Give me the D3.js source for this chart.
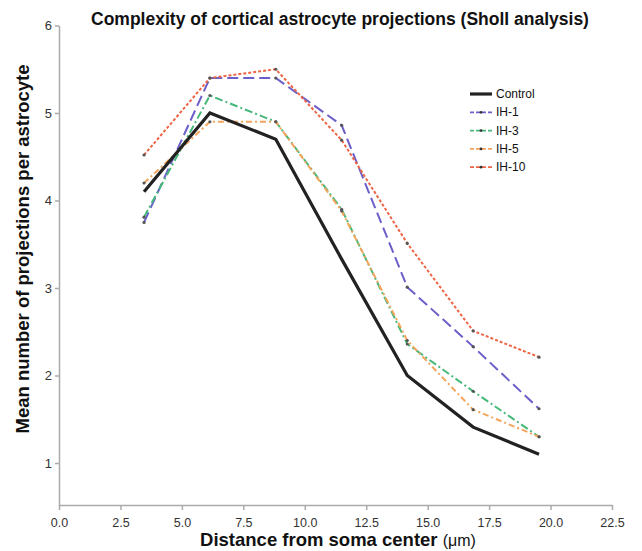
<!DOCTYPE html>
<html>
<head>
<meta charset="utf-8">
<script src="https://cdn.jsdelivr.net/npm/d3@7"></script>
<style>
  body { margin: 0; background: #fff; }
  text { font-family: "Liberation Sans", Arial, sans-serif; }
</style>
</head>
<body>
<div class="chart"></div>
<script>
// distances along the Sholl radius (um)
var distances = [3.46, 6.14, 8.82, 11.5, 14.17, 16.85, 19.53];

var control = [4.1, 5.0, 4.7, 3.33, 2.0, 1.41, 1.1];
var ih1 = [3.75, 5.4, 5.4, 4.86, 3.01, 2.33, 1.62];
var ih3 = [3.81, 5.2, 4.9, 3.9, 2.36, 1.82, 1.3];
var ih5 = [4.2, 4.9, 4.9, 3.88, 2.4, 1.61, 1.3];
var ih10 = [4.52, 5.4, 5.5, 4.69, 3.51, 2.51, 2.21];

var seriesNames = ["Control", "IH-1", "IH-3", "IH-5", "IH-10"];
var xTicks = [0, 2.5, 5, 7.5, 10, 12.5, 15, 17.5, 20, 22.5];
var yTicks = [1, 2, 3, 4, 5, 6];

var series = [
    { name: seriesNames[0], values: control, color: "#222222", dash: null, width: 3.2, dots: false },
    { name: seriesNames[1], values: ih1, color: "#6b5fc9", dash: "11,5", width: 2, dots: true },
    { name: seriesNames[2], values: ih3, color: "#45b87a", dash: "8,3,2,3", width: 2, dots: true },
    { name: seriesNames[3], values: ih5, color: "#f4a55c", dash: "6,3,2,3", width: 2, dots: true },
    { name: seriesNames[4], values: ih10, color: "#ee6545", dash: "3,2", width: 2, dots: true }
];

var svg = d3.select(".chart")
    .append("svg")
    .attr("width", 642)
    .attr("height", 551);

var x = d3.scaleLinear()
    .domain([0, 22.5])
    .range([59, 612]);

var y = d3.scaleLinear()
    .domain([0.52, 6])
    .range([505, 25.5]);

var axisColor = "#aaaaaa";
var tickText = "#333333";

var xAxis = svg.append("g")
    .attr("transform", "translate(0," + y(0.52) + ")")
    .call(d3.axisBottom(x).tickValues(xTicks).tickSize(5).tickSizeOuter(0).tickFormat(d3.format(".1f")));
xAxis.select(".domain").attr("stroke", axisColor).attr("stroke-width", 1.5);
xAxis.selectAll("line").attr("stroke", axisColor).attr("stroke-width", 1.5);
xAxis.selectAll("text")
    .attr("fill", tickText)
    .attr("dy", "1.15em")
    .style("font-size", "12.5px");

var yAxis = svg.append("g")
    .attr("transform", "translate(" + x(0) + ",0)")
    .call(d3.axisLeft(y).tickValues(yTicks).tickSize(4).tickSizeOuter(0).tickFormat(d3.format("d")));
yAxis.select(".domain").attr("stroke", axisColor).attr("stroke-width", 1.5);
yAxis.selectAll("line").attr("stroke", axisColor).attr("stroke-width", 1.5);
yAxis.selectAll("text")
    .attr("fill", tickText)
    .attr("x", -7)
    .style("font-size", "13px");

var line = d3.line()
    .x(function (d, i) { return x(distances[i]); })
    .y(function (d) { return y(d); });

// draw control last so it sits on top like the original
var drawOrder = [1, 2, 3, 4, 0];
drawOrder.forEach(function (k) {
    var s = series[k];
    svg.append("path")
        .datum(s.values)
        .attr("fill", "none")
        .attr("stroke", s.color)
        .attr("stroke-width", s.width)
        .attr("stroke-dasharray", s.dash)
        .attr("stroke-linejoin", "miter")
        .attr("d", line);
    if (s.dots) {
        svg.selectAll(".dot" + k)
            .data(s.values)
            .enter()
            .append("circle")
            .attr("cx", function (d, i) { return x(distances[i]); })
            .attr("cy", function (d) { return y(d); })
            .attr("r", 1.6)
            .attr("fill", "#555555");
    }
});

// legend
var legend = svg.append("g").attr("transform", "translate(470,94)");
series.forEach(function (s, i) {
    var row = legend.append("g").attr("transform", "translate(0," + (i * 18.3) + ")");
    row.append("line")
        .attr("x1", 0).attr("x2", 22)
        .attr("y1", 0).attr("y2", 0)
        .attr("stroke", s.color)
        .attr("stroke-width", s.dots ? 1.8 : 3.2)
        .attr("stroke-dasharray", s.dots ? "4,2" : null);
    if (s.dots) {
        row.append("circle").attr("cx", 11).attr("cy", 0).attr("r", 1.4).attr("fill", "#333");
    }
    row.append("text")
        .attr("x", 26)
        .attr("y", 4)
        .attr("fill", "#111")
        .style("font-size", "12px")
        .text(s.name);
});

svg.append("text")
    .attr("x", 340)
    .attr("y", 25)
    .attr("text-anchor", "middle")
    .attr("fill", "#111")
    .style("font-size", "17.5px")
    .style("font-weight", "bold")
    .text("Complexity of cortical astrocyte projections (Sholl analysis)");

var xl = svg.append("text")
    .attr("x", 338)
    .attr("y", 546)
    .attr("text-anchor", "middle")
    .attr("fill", "#111")
    .style("font-size", "18.5px");
xl.append("tspan").style("font-weight", "bold").text("Distance from soma center ");
xl.append("tspan").style("font-size", "16px").text("(\u03bcm)");

svg.append("text")
    .attr("transform", "rotate(-90)")
    .attr("x", -249)
    .attr("y", 29)
    .attr("text-anchor", "middle")
    .attr("fill", "#111")
    .style("font-size", "18.5px")
    .style("font-weight", "bold")
    .text("Mean number of projections per astrocyte");
</script>
</body>
</html>
